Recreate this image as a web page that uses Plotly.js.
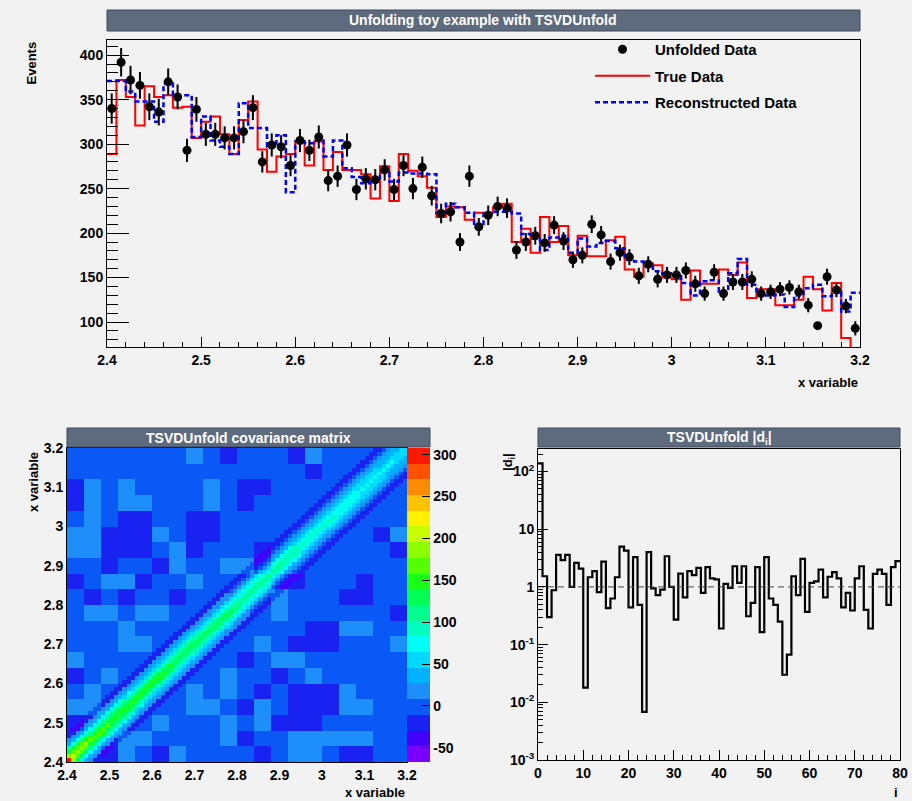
<!DOCTYPE html>
<html><head><meta charset="utf-8">
<script src="https://cdn.plot.ly/plotly-3.0.1.min.js"></script>
<style>html,body{margin:0;padding:0;background:#f2f2f2;} #plot{width:920px;height:801px;}</style>
</head><body><div id="plot"></div>
<script>
// ---------- data ----------
const xMin = 2.4, binWidth = 0.01, nBins = 80;

const unfoldedData = [340,392,372,366,342,336,370,353,293,339,
  311,311,307,307,314,341,280,299,297,276,
  304,293,308,259,264,299,249,261,260,271,
  249,276,250,274,242,222,224,190,264,207,
  220,230,228,181,190,197,189,209,191,170,
  175,210,198,168,178,173,152,165,148,153,
  153,158,143,132,156,132,145,145,148,132,
  134,137,139,134,119,96,151,136,118,93];

const unfoldedErr = [17,16,16,15,15,15,15,14,13,14,
  13,13,13,13,13,14,12,13,13,12,
  13,12,13,12,12,13,12,12,12,12,
  12,12,12,12,11,11,11,10,12,10,
  11,11,11,10,10,10,10,10,10,9,
  9,10,10,9,9,9,9,9,9,9,
  9,9,9,8,9,8,9,9,9,8,
  8,8,8,8,8,0,9,8,8,8];

const trueData = [289,372,353,321,365,353,355,341,342,307,
  325,331,311,289,327,348,294,269,286,289,
  303,276,303,271,291,271,271,266,239,275,
  236,289,270,264,251,218,230,229,215,223,
  223,229,233,190,205,178,218,190,208,175,
  197,174,174,192,196,159,151,166,164,150,
  148,125,158,143,143,159,153,167,127,137,
  137,119,119,125,151,137,113,144,82,68];

const recoData = [371,371,359,348,348,325,368,355,355,308,
  331,304,297,289,346,318,318,297,310,246,
  303,301,304,286,304,273,263,256,258,268,
  258,268,267,267,266,223,233,229,223,208,
  222,224,224,222,199,194,181,195,197,178,
  194,185,189,191,183,170,168,163,157,154,
  155,144,130,146,147,134,155,171,142,130,
  130,131,117,130,138,142,129,134,112,133];

// covariance matrix: diagonal, band profile, flank and background blob map (4x4-bin blocks, symmetric)
const covDiag = [300,205,195,190,180,172,168,165,160,158,
  155,152,150,155,148,150,146,147,145,142,
  144,140,142,139,140,136,138,134,135,132,
  133,130,131,127,128,124,125,121,122,118,
  118,115,116,112,113,110,110,106,107,104,
  103,100,100,97,97,94,94,91,91,88,
  88,85,85,82,82,79,79,76,76,73,
  73,71,71,68,68,66,66,64,63,62];
const covBandFrac = [1.0, 0.88, 0.68, 0.44, 0.22, 0.07];
const covFlank = [-13, -12, -3];
const covBgLevels = {'d': -20, '.': 0, 'l': 18};
const covBgMap = [
  ".",
  "..",
  "d..",
  "ll..",
  ".l...",
  "d.l...",
  "l......",
  "...ll...",
  "...l.....",
  ".ll.ll....",
  ".d.d..d....",
  "d.lld..l....",
  "..d..dl..lld.",
  "llddd.ld...d..",
  "lldddl.dd......",
  ".l.dd..dd.......",
  "dl.ll...l.d......",
  "dl.l....l.dd......",
  "..............d....",
  ".......l.d...dl....."
];
const covZMin = -67, covZMax = 308;
const covTickVals = [-50, 0, 50, 100, 150, 200, 250, 300];
const covTickText = ['-50', '0', '50', '100', '150', '200', '250', '300'];
const paletteColors = ['#7a00ff','#4200ff','#1a22f2','#0a58f6','#1e8ffa','#00b2ff','#00daff','#00fff2',
  '#00ffbe','#00ff8c','#00ff55','#18ff18','#55ff00','#8eff00','#c8ff00','#fff000','#ffc200','#ff8c00','#ff5200','#ff1800'];

// |d_i|
const dAbs = [138,1.53,0.30,0.875,3.6,2.9,3.6,1.0,2.6,2.08,
  0.018,1.47,1.87,0.81,2.75,0.43,0.63,1.47,5.0,4.26,
  0.44,3.27,0.49,0.0068,4.0,0.94,0.72,0.9,3.4,1.0,
  0.27,1.7,0.66,1.87,1.6,2.14,0.79,2.2,1.4,1.35,
  0.19,1.13,0.96,2.28,1.17,2.28,0.31,0.53,2.2,0.165,
  3.27,0.63,0.49,0.25,0.030,0.067,1.53,0.72,3.06,0.37,
  1.17,1.25,2.0,0.66,1.5,1.8,1.4,0.44,0.79,0.39,
  1.4,2.28,0.4,0.19,1.68,2.0,1.68,0.49,2.2,2.8];
const dRefLevel = 1;
const dTickVals = [0.001, 0.01, 0.1, 1, 10, 100];
const dTickText = ['10<sup>-3</sup>','10<sup>-2</sup>','10<sup>-1</sup>','1','10','10<sup>2</sup>'];

// ---------- derived tables ----------
const edges = Array.from({length: nBins + 1}, (_, i) => +(xMin + i * binWidth).toFixed(4));
const centers = Array.from({length: nBins}, (_, i) => +(xMin + (i + 0.5) * binWidth).toFixed(4));
const stepY = a => a.concat([a[a.length - 1]]);
const dEdges = Array.from({length: dAbs.length + 1}, (_, i) => i);

const covZ = [];
for (let j = 0; j < nBins; j++) {
  const row = [];
  for (let i = 0; i < nBins; i++) {
    const k = Math.abs(i - j);
    let band = 0;
    if (k < covBandFrac.length) band = covBandFrac[k] * Math.min(covDiag[i], covDiag[j]);
    else if (k < covBandFrac.length + covFlank.length) band = covFlank[k - covBandFrac.length];
    const bi = Math.floor(i / 4), bj = Math.floor(j / 4);
    const ch = covBgMap[Math.max(bi, bj)][Math.min(bi, bj)];
    row.push(band + covBgLevels[ch]);
  }
  covZ.push(row);
}
const colorscale = [];
paletteColors.forEach((c, k) => { colorscale.push([k / paletteColors.length, c]); colorscale.push([(k + 1) / paletteColors.length, c]); });

// ---------- layout helpers ----------
const W = 920, H = 801;
const pX = px => px / W, pY = py => (H - py) / H;
const FONT = 'Liberation Sans, Arial, Helvetica, sans-serif';
const tf = s => ({family: FONT, size: s, color: '#000', weight: 'bold'});

const traces = [
  {type: 'scatter', mode: 'lines', x: edges, y: stepY(trueData), line: {shape: 'hv', color: '#ff0000', width: 2},
   name: 'True Data', legendrank: 2, legendgroup: 'g2', xaxis: 'x', yaxis: 'y', hoverinfo: 'skip'},
  {type: 'scatter', mode: 'lines', x: edges, y: stepY(recoData), line: {shape: 'hv', color: '#0000ff', width: 2.5, dash: '5px,3px'},
   name: 'Reconstructed Data', legendrank: 3, legendgroup: 'g3', xaxis: 'x', yaxis: 'y', hoverinfo: 'skip'},
  {type: 'scatter', mode: 'markers', x: centers, y: unfoldedData,
   error_y: {type: 'data', array: unfoldedErr, visible: true, color: '#000', thickness: 2, width: 0},
   marker: {color: '#000', size: 9, symbol: 'circle'}, name: 'Unfolded Data', legendrank: 1, legendgroup: 'g1',
   xaxis: 'x', yaxis: 'y', hoverinfo: 'skip'},
  {type: 'heatmap', x: centers, y: centers, z: covZ, zmin: covZMin, zmax: covZMax, colorscale: colorscale, zsmooth: false,
   xaxis: 'x2', yaxis: 'y2', showlegend: false, hoverinfo: 'skip',
   colorbar: {x: pX(407), xanchor: 'left', y: pY(762), yanchor: 'bottom', len: 314, lenmode: 'pixels',
     thickness: 23, thicknessmode: 'pixels', outlinewidth: 0, xpad: 0, ypad: 0,
     tickvals: covTickVals, ticktext: covTickText, ticks: 'inside', ticklen: 8, tickcolor: '#000', tickwidth: 1,
     tickfont: tf(14)}},
  {type: 'scatter', mode: 'lines', x: dEdges, y: stepY(dAbs), line: {shape: 'hv', color: '#000', width: 2.2},
   xaxis: 'x3', yaxis: 'y3', showlegend: false, hoverinfo: 'skip'},
  {type: 'scatter', mode: 'lines', x: [dEdges[0], dEdges[dEdges.length - 1]], y: [dRefLevel, dRefLevel],
   line: {color: '#444', width: 1, dash: '6px,4px'}, xaxis: 'x3', yaxis: 'y3', showlegend: false, hoverinfo: 'skip'}
];

const baseAxis = {showgrid: false, zeroline: false, showline: true, linecolor: '#000', linewidth: 1, mirror: true,
  tickfont: tf(14), tickcolor: '#000', ticks: 'inside'};

const layout = {
  width: W, height: H, margin: {l: 0, r: 0, t: 0, b: 0},
  paper_bgcolor: '#f2f2f2', plot_bgcolor: '#f2f2f2',
  font: {family: FONT, color: '#000'},
  showlegend: true,
  legend: {x: pX(590), y: pY(33), xanchor: 'left', yanchor: 'top', bgcolor: 'rgba(0,0,0,0)',
    font: tf(15), itemwidth: 55, tracegroupgap: 4},
  xaxis: Object.assign({}, baseAxis, {domain: [pX(107), pX(860)], range: [2.4, 3.2], anchor: 'y',
    tick0: 2.4, dtick: 0.1, ticklen: 10, minor: {ticks: 'inside', ticklen: 5, tick0: 2.4, dtick: 0.02, tickcolor: '#000'}}),
  yaxis: Object.assign({}, baseAxis, {domain: [pY(347), pY(40)], range: [72, 417], anchor: 'x',
    tick0: 0, dtick: 50, ticklen: 22, minor: {ticks: 'inside', ticklen: 11, tick0: 0, dtick: 10, tickcolor: '#000'}}),
  xaxis2: Object.assign({}, baseAxis, {domain: [pX(67), pX(407)], range: [2.4, 3.2], anchor: 'y2',
    tick0: 2.4, dtick: 0.1, ticks: '', tickfont: tf(14)}),
  yaxis2: Object.assign({}, baseAxis, {domain: [pY(762), pY(448)], range: [2.4, 3.2], anchor: 'x2',
    tick0: 2.4, dtick: 0.1, ticks: '', tickfont: tf(14)}),
  xaxis3: Object.assign({}, baseAxis, {domain: [pX(538), pX(900)], range: [0, 80], anchor: 'y3',
    tick0: 0, dtick: 10, ticklen: 10, minor: {ticks: 'inside', ticklen: 5, tick0: 0, dtick: 2, tickcolor: '#000'}}),
  yaxis3: Object.assign({}, baseAxis, {domain: [pY(760), pY(449)], type: 'log', range: [-3, 2.39], anchor: 'x3',
    tickvals: dTickVals, ticktext: dTickText, ticklen: 10,
    minor: {ticks: 'inside', ticklen: 5, dtick: 'D1', tickcolor: '#000'}}),
  shapes: [
    {type: 'rect', xref: 'paper', yref: 'paper', x0: pX(912), x1: 1, y0: 0, y1: 1, fillcolor: '#ffffff', line: {width: 0}, layer: 'below'},
    {type: 'rect', xref: 'paper', yref: 'paper', x0: pX(107), x1: pX(860), y0: pY(31), y1: pY(10), fillcolor: '#5e6b7e', line: {color: '#3f4a5a', width: 1}},
    {type: 'rect', xref: 'paper', yref: 'paper', x0: pX(67), x1: pX(430), y0: pY(447), y1: pY(428), fillcolor: '#5e6b7e', line: {color: '#3f4a5a', width: 1}},
    {type: 'rect', xref: 'paper', yref: 'paper', x0: pX(538), x1: pX(900), y0: pY(447), y1: pY(428), fillcolor: '#5e6b7e', line: {color: '#3f4a5a', width: 1}}
  ],
  annotations: [
    {xref: 'paper', yref: 'paper', x: pX(483), y: pY(20.5), text: 'Unfolding toy example with TSVDUnfold', showarrow: false,
     font: {family: FONT, size: 14, color: '#ffffff', weight: 'bold'}, xanchor: 'center', yanchor: 'middle'},
    {xref: 'paper', yref: 'paper', x: pX(248), y: pY(437.5), text: 'TSVDUnfold covariance matrix', showarrow: false,
     font: {family: FONT, size: 14, color: '#ffffff', weight: 'bold'}, xanchor: 'center', yanchor: 'middle'},
    {xref: 'paper', yref: 'paper', x: pX(719), y: pY(437.5), text: 'TSVDUnfold |d<sub>i</sub>|', showarrow: false,
     font: {family: FONT, size: 14, color: '#ffffff', weight: 'bold'}, xanchor: 'center', yanchor: 'middle'},
    {xref: 'paper', yref: 'paper', x: pX(31), y: pY(40), text: 'Events', textangle: -90, showarrow: false,
     font: tf(13), xanchor: 'center', yanchor: 'top'},
    {xref: 'paper', yref: 'paper', x: pX(860), y: pY(382), text: 'x variable', showarrow: false,
     font: tf(13), xanchor: 'right', yanchor: 'middle'},
    {xref: 'paper', yref: 'paper', x: pX(33), y: pY(450), text: 'x variable', textangle: -90, showarrow: false,
     font: tf(13), xanchor: 'center', yanchor: 'top'},
    {xref: 'paper', yref: 'paper', x: pX(407), y: pY(792), text: 'x variable', showarrow: false,
     font: tf(13), xanchor: 'right', yanchor: 'middle'},
    {xref: 'paper', yref: 'paper', x: pX(508), y: pY(451), text: '|d<sub>i</sub>|', textangle: -90, showarrow: false,
     font: tf(13), xanchor: 'center', yanchor: 'top'},
    {xref: 'paper', yref: 'paper', x: pX(900), y: pY(792), text: 'i', showarrow: false,
     font: tf(13), xanchor: 'right', yanchor: 'middle'}
  ]
};

Plotly.newPlot('plot', traces, layout, {displayModeBar: false, staticPlot: true});
</script>
</body></html>
